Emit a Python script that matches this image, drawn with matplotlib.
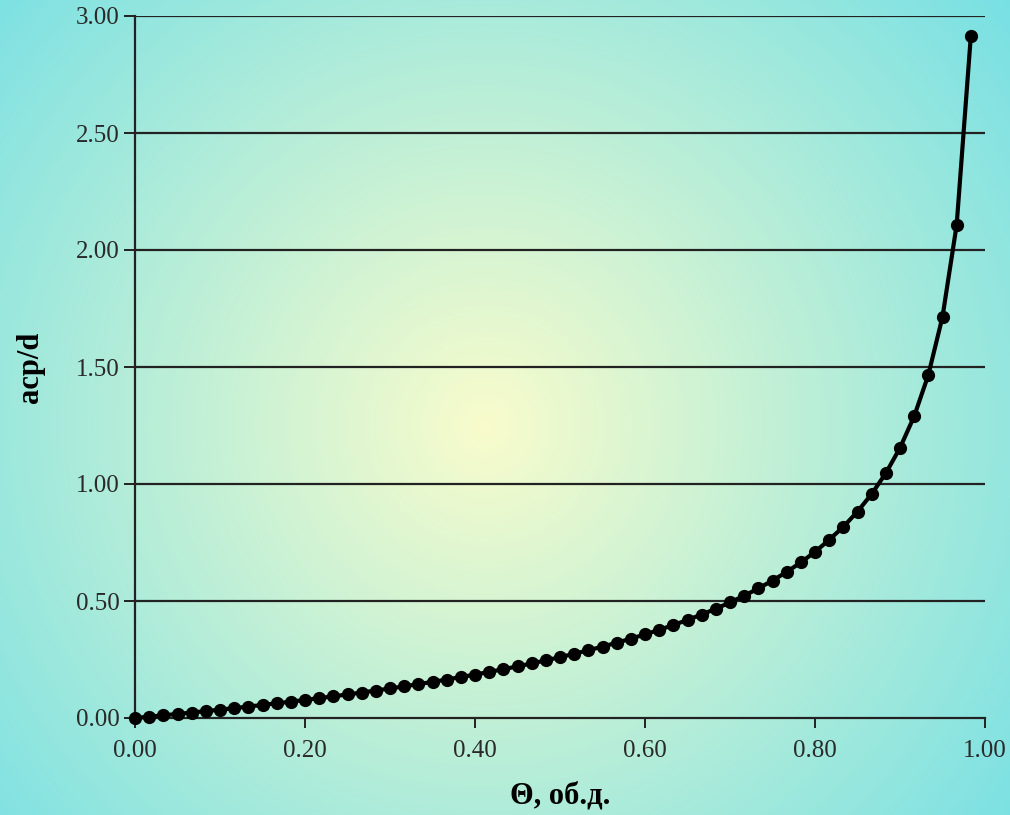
import numpy as np
import matplotlib.pyplot as plt

# data: theta (vol. fraction) vs a_cp/d
theta = [i / 60 for i in range(60)]
a_d = [0.0, 0.0056, 0.0114, 0.0172, 0.0233, 0.0294, 0.0357, 0.0422, 0.0488, 0.0557,
       0.0627, 0.0698, 0.0772, 0.0848, 0.0926, 0.1006, 0.1089, 0.1174, 0.1262, 0.1353,
       0.1447, 0.1544, 0.1644, 0.1748, 0.1856, 0.1968, 0.2085, 0.2206, 0.2332, 0.2463,
       0.2599, 0.2743, 0.2893, 0.3050, 0.3215, 0.3389, 0.3572, 0.3766, 0.3971, 0.4190,
       0.4422, 0.4670, 0.4938, 0.5226, 0.5536, 0.5874, 0.6241, 0.6648, 0.7100, 0.7614,
       0.8171, 0.8821, 0.9574, 1.0463, 1.1544, 1.2894, 1.4662, 1.7144, 2.1072, 2.9149]
xticks = [0.0, 0.2, 0.4, 0.6, 0.8, 1.0]
yticks = [0.0, 0.5, 1.0, 1.5, 2.0, 2.5, 3.0]

W, H = 1010, 815
fig = plt.figure(figsize=(W / 100, H / 100), dpi=100)

# radial background: pale yellow in the middle, cyan at the corners
yy, xx = np.mgrid[0:H, 0:W]
cx, cy = 485, 425
r = np.sqrt((xx - cx) ** 2 + (yy - cy) ** 2)
r = np.clip(r / np.sqrt(max(cx, W - cx) ** 2 + max(cy, H - cy) ** 2), 0, 1)
c_in = np.array([249, 252, 204]) / 255
c_out = np.array([120, 224, 228]) / 255
bg = c_in[None, None, :] * (1 - r[..., None]) + c_out[None, None, :] * r[..., None]
bg_ax = fig.add_axes([0, 0, 1, 1], zorder=0)
bg_ax.imshow(bg, aspect='auto', extent=[0, 1, 0, 1])
bg_ax.axis('off')

ax = fig.add_axes([135 / W, 1 - 718 / H, 850 / W, 702 / H], zorder=1)
ax.patch.set_alpha(0)
ax.plot(theta, a_d, color='black', lw=3, marker='o', ms=8.5, zorder=3, clip_on=False)

ax.set_xlim(0, 1)
ax.set_ylim(0, 3)
ax.set_xticks(xticks)
ax.set_yticks(yticks)
ax.set_xticklabels([f"{v:.2f}" for v in xticks])
ax.set_yticklabels([f"{v:.2f}" for v in yticks])
for v in yticks[1:]:
    ax.axhline(v, color='#222222', lw=1.6, zorder=1)

serif = ['Liberation Serif', 'DejaVu Serif']
for lab in ax.get_xticklabels() + ax.get_yticklabels():
    lab.set_family(serif)
    lab.set_fontsize(18)
    lab.set_color('#2a2a2a')
ax.tick_params(axis='x', direction='out', length=7, width=1.4, color='#222222', pad=9)
ax.tick_params(axis='y', direction='out', length=8, width=1.4, color='#222222', pad=3)

ax.spines['top'].set_visible(False)
ax.spines['right'].set_visible(False)
for s in ('left', 'bottom'):
    ax.spines[s].set_linewidth(1.6)
    ax.spines[s].set_color('#222222')

ax.set_xlabel('Θ, об.д.', family=serif, fontsize=22, fontweight='bold', labelpad=14)
ax.set_ylabel('acp/d', family=serif, fontsize=22, fontweight='bold', labelpad=22)

fig.savefig('out.png', dpi=100)
